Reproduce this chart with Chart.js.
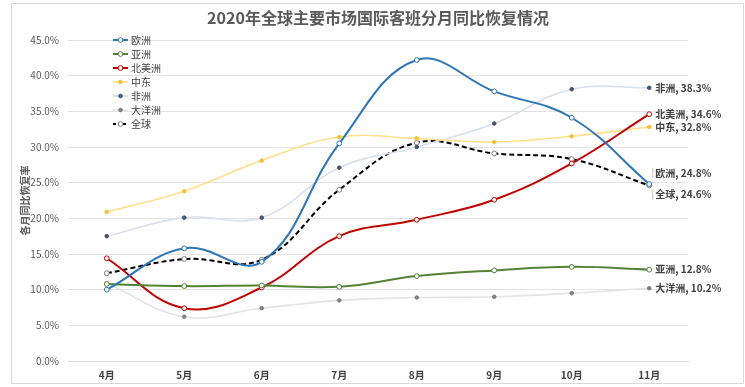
<!DOCTYPE html>
<html>
<head>
<meta charset="utf-8">
<script src="https://cdn.jsdelivr.net/npm/chart.js@4"></script>
<style>
  html, body { margin: 0; padding: 0; background: #fff; }
</style>
</head>
<body>
<canvas id="recoveryChart" width="745" height="387"></canvas>
<script>
// data (% of same month last year)
const months = ['4月', '5月', '6月', '7月', '8月', '9月', '10月', '11月'];
const seriesNames = ['欧洲', '亚洲', '北美洲', '中东', '非洲', '大洋洲', '全球'];
const europe = [10.0, 15.8, 13.9, 30.5, 42.2, 37.8, 34.1, 24.8];
const asia = [10.8, 10.5, 10.6, 10.4, 11.9, 12.7, 13.2, 12.8];
const northAmerica = [14.4, 7.4, 10.3, 17.5, 19.8, 22.6, 27.7, 34.6];
const middleEast = [20.9, 23.8, 28.1, 31.4, 31.2, 30.7, 31.5, 32.8];
const africa = [17.5, 20.1, 20.1, 27.1, 30.0, 33.3, 38.1, 38.3];
const oceania = [10.9, 6.2, 7.4, 8.5, 8.9, 9.0, 9.5, 10.2];
const global = [12.3, 14.3, 14.2, 24.0, 30.6, 29.1, 28.3, 24.6];
const yTicks = { min: 0, max: 45, step: 5 };

const FONT = '"Noto Sans CJK SC", "Noto Sans", sans-serif';
const TEXT = '#404040';

function series(label, data, color, opts) {
  return Object.assign({
    label: label,
    data: data,
    borderColor: color,
    backgroundColor: color,
    borderWidth: 2,
    tension: 0.4,
    pointRadius: 2.4,
    pointBorderWidth: 1,
    pointBackgroundColor: '#ffffff',
    pointBorderColor: color
  }, opts || {});
}

const datasets = [
  series(seriesNames[0], europe, '#2E75B6'),
  series(seriesNames[1], asia, '#548235'),
  series(seriesNames[2], northAmerica, '#C00000'),
  series(seriesNames[3], middleEast, '#FFE08A', { borderWidth: 1.6, pointRadius: 1.8, pointBackgroundColor: '#F4C034', pointBorderColor: '#F4C034' }),
  series(seriesNames[4], africa, '#D9DFEE', { borderWidth: 1.6, pointRadius: 1.8, pointBackgroundColor: '#44546A', pointBorderColor: '#44546A' }),
  series(seriesNames[5], oceania, '#E4E4E4', { borderWidth: 1.6, pointRadius: 1.8, pointBackgroundColor: '#7F7F7F', pointBorderColor: '#7F7F7F' }),
  series(seriesNames[6], global, '#000000', { borderDash: [5, 3], pointBorderColor: '#7F7F7F' })
];

// label offsets at the right end (only europe / global need nudging)
const endLabelShift = { '欧洲': -11, '全球': 9 };

const decorations = {
  id: 'decorations',
  afterDraw(chart) {
    const ctx = chart.ctx;
    ctx.save();

    // outer frame
    ctx.strokeStyle = '#D9D9D9';
    ctx.lineWidth = 1;
    ctx.strokeRect(11.5, 3.5, 732, 380);

    // title
    ctx.fillStyle = '#595959';
    ctx.font = 'bold 16px ' + FONT;
    ctx.textAlign = 'center';
    ctx.textBaseline = 'middle';
    ctx.fillText('2020年全球主要市场国际客班分月同比恢复情况', 378, 18);

    // legend inside the plot, top left
    ctx.font = '10px ' + FONT;
    ctx.textAlign = 'left';
    chart.data.datasets.forEach((ds, i) => {
      const y = 40 + i * 14;
      ctx.strokeStyle = ds.borderColor;
      ctx.lineWidth = ds.borderWidth;
      ctx.setLineDash(ds.borderDash ? [3, 2] : []);
      ctx.beginPath();
      ctx.moveTo(113, y);
      ctx.lineTo(128, y);
      ctx.stroke();
      ctx.setLineDash([]);
      ctx.beginPath();
      ctx.arc(120.5, y, ds.pointRadius, 0, Math.PI * 2);
      ctx.fillStyle = ds.pointBackgroundColor;
      ctx.fill();
      ctx.lineWidth = 1;
      ctx.strokeStyle = ds.pointBorderColor;
      ctx.stroke();
      ctx.fillStyle = TEXT;
      ctx.fillText(ds.label, 131, y);
    });

    // end-of-line value labels
    ctx.font = 'bold 10px ' + FONT;
    chart.data.datasets.forEach((ds, i) => {
      const pts = chart.getDatasetMeta(i).data;
      const last = pts[pts.length - 1];
      const shift = endLabelShift[ds.label] || 0;
      const v = ds.data[ds.data.length - 1];
      if (shift) {
        ctx.strokeStyle = '#BFBFBF';
        ctx.lineWidth = 1;
        ctx.beginPath();
        ctx.moveTo(last.x + 3.5, last.y + shift - 5 * Math.sign(shift));
        ctx.lineTo(last.x + 3.5, last.y + shift + 5 * Math.sign(shift));
        ctx.stroke();
      }
      ctx.fillStyle = TEXT;
      ctx.fillText(ds.label + ', ' + v.toFixed(1) + '%', last.x + 6, last.y + shift);
    });
    ctx.restore();
  }
};

new Chart(document.getElementById('recoveryChart'), {
  type: 'line',
  data: { labels: months, datasets: datasets },
  options: {
    responsive: false,
    animation: false,
    layout: { padding: { top: 40, left: 11, right: 57, bottom: 0 } },
    plugins: {
      legend: { display: false },
      tooltip: { enabled: false }
    },
    scales: {
      x: {
        offset: true,
        grid: { display: false, drawTicks: false },
        border: { color: '#D9D9D9' },
        ticks: { color: TEXT, font: { family: FONT, size: 10, weight: 'bold' }, padding: 8 },
        afterFit: s => { s.height = 26; }
      },
      y: {
        min: yTicks.min,
        max: yTicks.max,
        grid: { color: '#E3E3E3', drawTicks: false },
        border: { display: false },
        ticks: {
          stepSize: yTicks.step,
          padding: 9,
          color: '#595959',
          font: { family: FONT, size: 10 },
          callback: v => v.toFixed(1) + '%'
        },
        title: {
          display: true,
          text: '各月同比恢复率',
          color: '#595959',
          font: { family: FONT, size: 10, weight: 'bold' },
          padding: { top: 8, bottom: 0 }
        },
        afterFit: s => { s.width = 57; }
      }
    }
  },
  plugins: [decorations]
});
</script>
</body>
</html>
